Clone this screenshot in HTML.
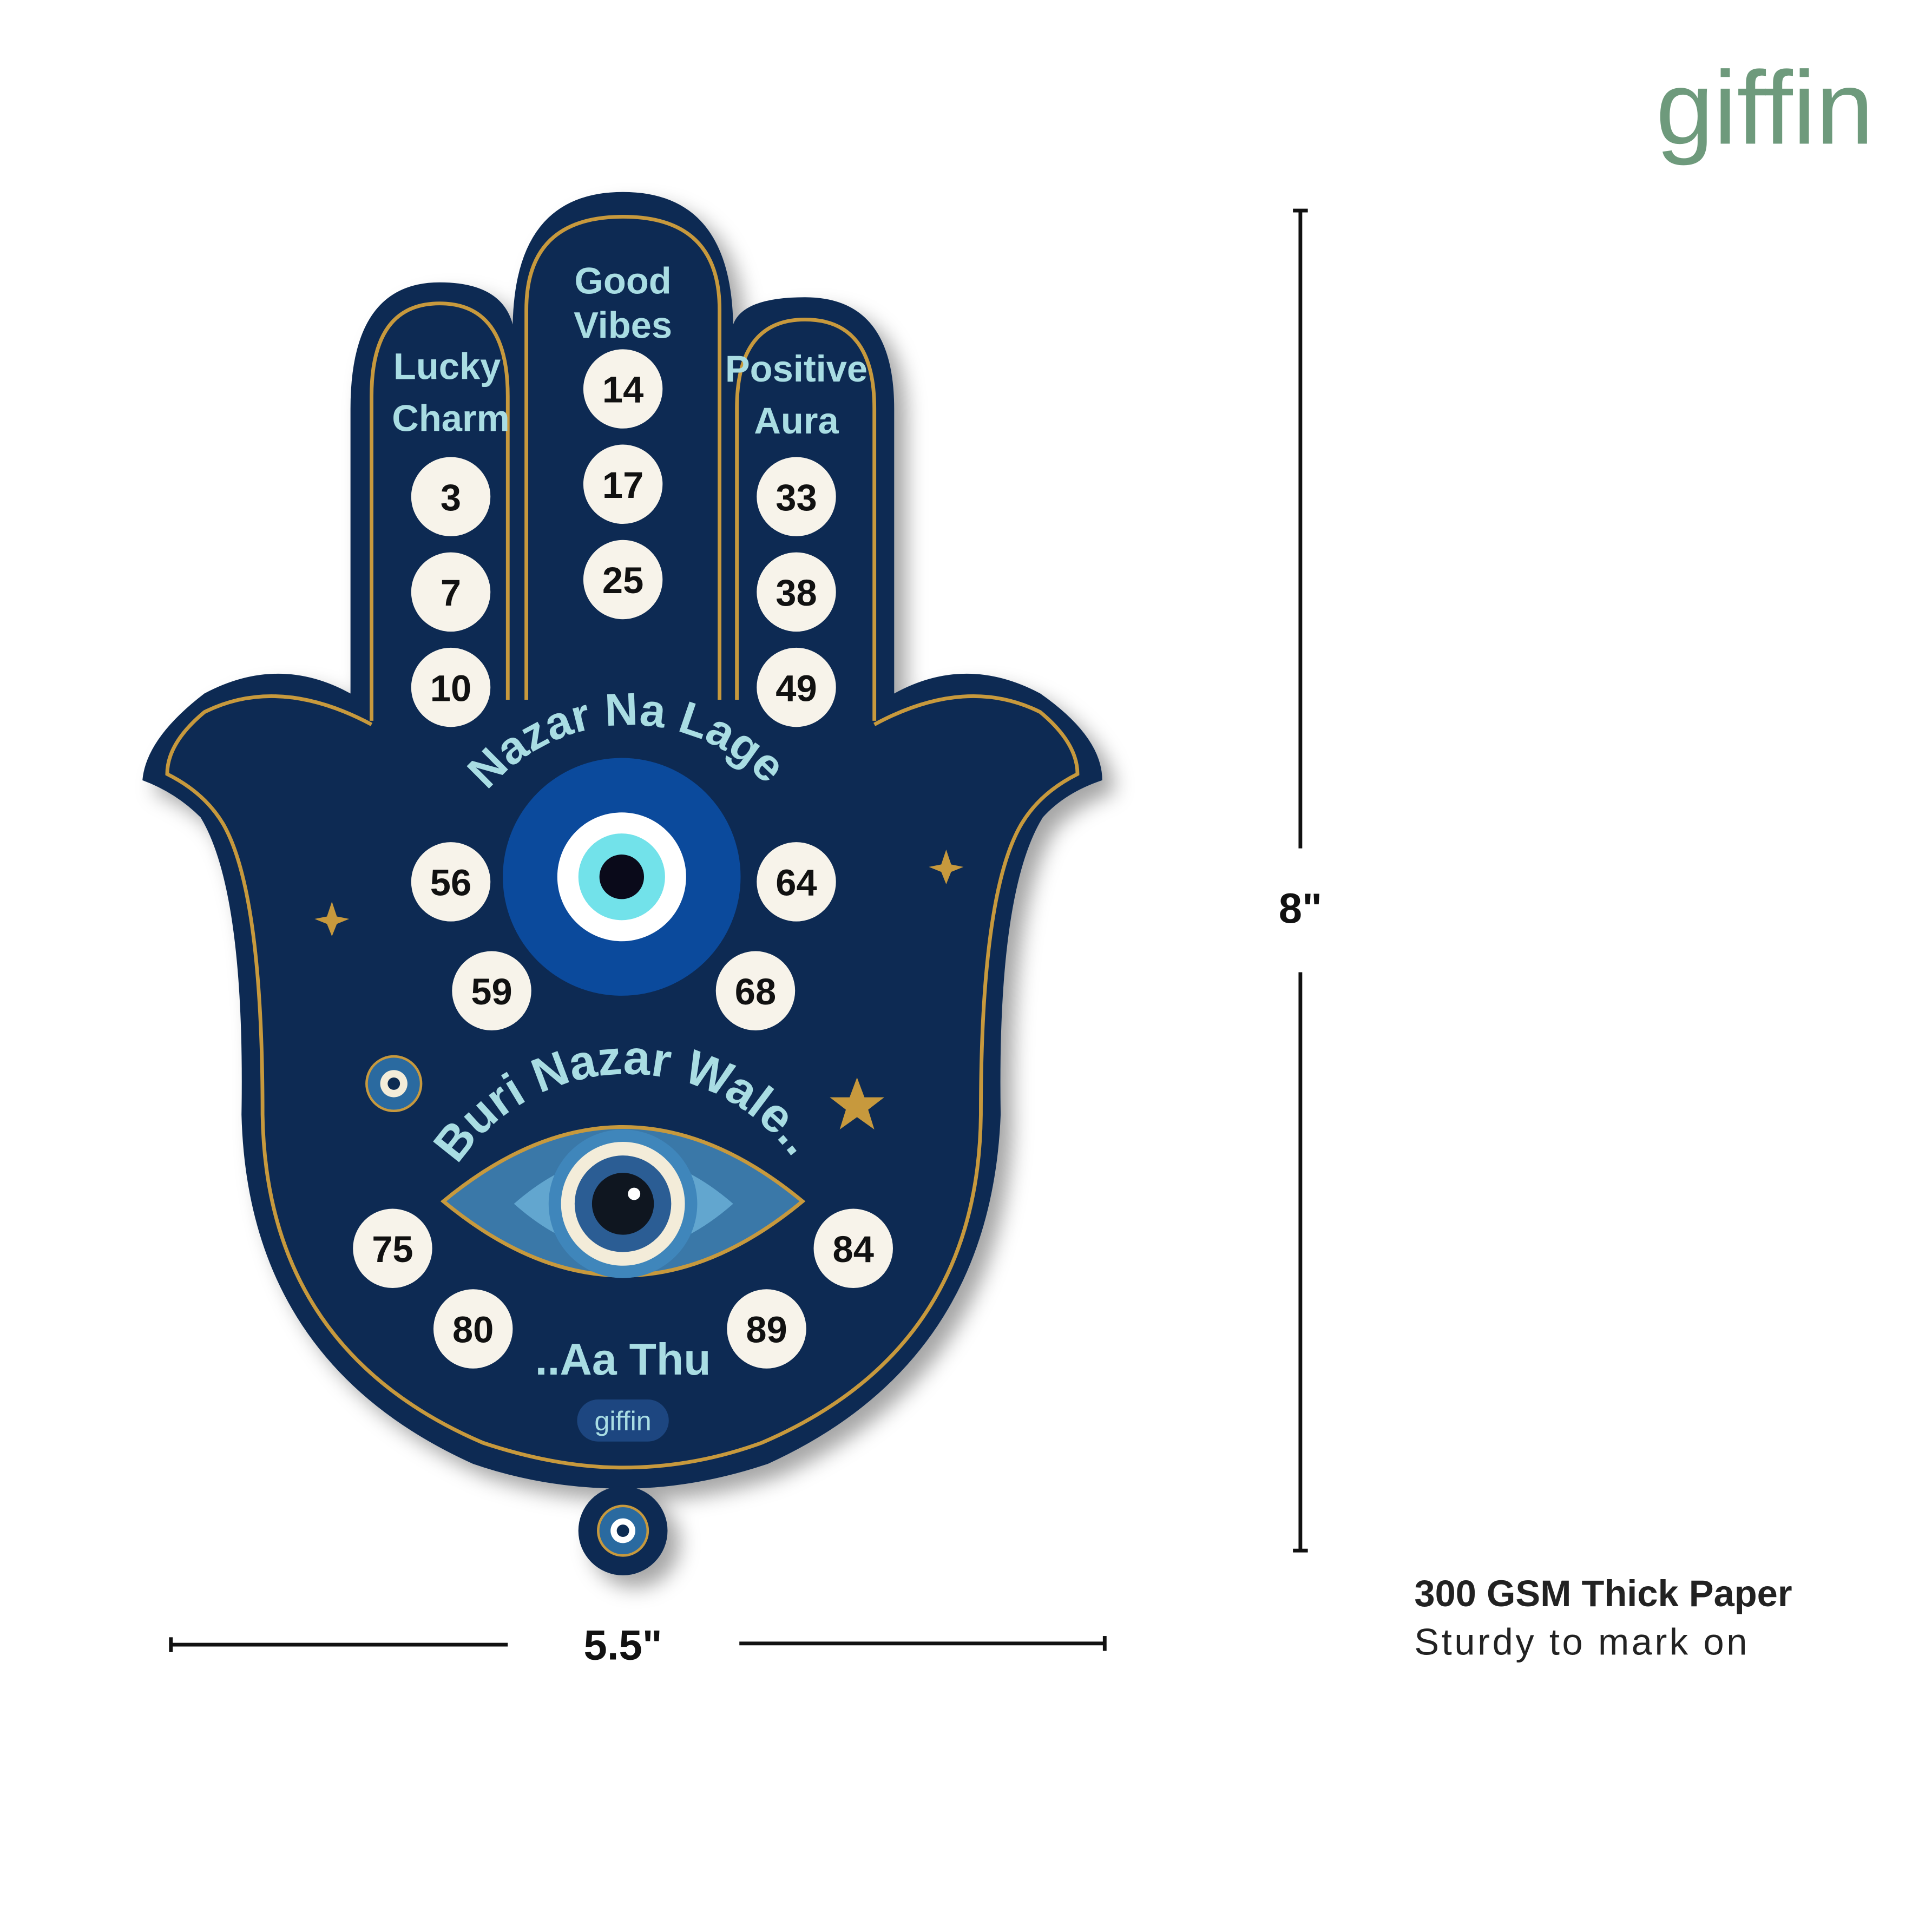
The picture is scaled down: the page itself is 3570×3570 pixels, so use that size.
<!DOCTYPE html>
<html><head><meta charset="utf-8"><style>
html,body{margin:0;padding:0;background:#fff;}
svg{display:block;}
text{font-family:"Liberation Sans",sans-serif;}
</style></head><body>
<svg width="3570" height="3570" viewBox="0 0 1560 1560" xmlns="http://www.w3.org/2000/svg">
<defs>
<filter id="sh" x="-20%" y="-20%" width="140%" height="140%"><feDropShadow dx="10" dy="10" stdDeviation="8" flood-color="#000" flood-opacity="0.35"/></filter>
<path id="hand" d="M283,330 Q283,228 355,228 Q405,228 414,262 Q416,155 503,155 Q590,155 592,262 Q600,240 650,240 Q722,240 722,330 L722,560 Q780,528 840,560 Q890,595 890,630 Q860,640 842,660 Q805,720 808,900 Q800,1100 620,1182 Q560,1202 503,1202 Q440,1202 382,1182 Q200,1100 195,900 Q198,720 162,660 Q142,640 115,630 Q118,596 165,560 Q225,528 283,560 Z"/>
<path id="arc1" d="M385,650 A150,150 0 0 1 628,645"/>
<path id="arc2" d="M365,948 A165,165 0 0 1 645,942"/>
</defs>
<!-- logo -->
<text x="1425" y="116" font-size="84" fill="#6e9a7c" text-anchor="middle">giffin</text>
<!-- hand -->
<g filter="url(#sh)">
<use href="#hand" fill="#0c2b52"/>
<circle cx="503" cy="1236" r="36" fill="#0c2b52"/>
</g>
<g fill="none" stroke="#c7993d" stroke-width="3">
<path d="M300,582 L300,320 Q300,245 355,245 Q410,245 410,320 L410,565"/>
<path d="M425,565 L425,250 Q425,175 503,175 Q581,175 581,250 L581,565"/>
<path d="M595,565 L595,330 Q595,258 650,258 Q706,258 706,330 L706,582"/>
<path d="M300,585 Q225,545 165,575 Q135,600 135,625 Q165,640 180,665 Q212,720 212,900 Q215,1090 390,1165 Q450,1185 503,1185 Q560,1185 615,1165 Q790,1090 792,900 Q792,720 825,665 Q840,640 870,625 Q870,600 840,575 Q780,545 706,585"/>
</g>
<circle cx="503" cy="1236" r="20" fill="#2a6aa0" stroke="#c7993d" stroke-width="2"/>
<circle cx="503" cy="1236" r="10" fill="#fff"/><circle cx="503" cy="1236" r="5" fill="#0c2b52"/>
<!-- finger labels -->
<g fill="#a9dde3" font-weight="bold" font-size="30" text-anchor="middle">
<text x="361" y="306">Lucky</text><text x="364" y="348">Charm</text>
<text x="503" y="237">Good</text><text x="503" y="273">Vibes</text>
<text x="643" y="308">Positive</text><text x="643" y="350">Aura</text>
</g>
<!-- number circles -->
<g fill="#f7f3ea">
<circle cx="364" cy="401" r="32"/><circle cx="364" cy="478" r="32"/><circle cx="364" cy="555" r="32"/>
<circle cx="503" cy="314" r="32"/><circle cx="503" cy="391" r="32"/><circle cx="503" cy="468" r="32"/>
<circle cx="643" cy="401" r="32"/><circle cx="643" cy="478" r="32"/><circle cx="643" cy="555" r="32"/>
<circle cx="364" cy="712" r="32"/><circle cx="643" cy="712" r="32"/>
<circle cx="397" cy="800" r="32"/><circle cx="610" cy="800" r="32"/>
<circle cx="317" cy="1008" r="32"/><circle cx="689" cy="1008" r="32"/>
<circle cx="382" cy="1073" r="32"/><circle cx="619" cy="1073" r="32"/>
</g>
<g fill="#111" font-weight="bold" font-size="30" text-anchor="middle">
<text x="364" y="412">3</text><text x="364" y="489">7</text><text x="364" y="566">10</text>
<text x="503" y="325">14</text><text x="503" y="402">17</text><text x="503" y="479">25</text>
<text x="643" y="412">33</text><text x="643" y="489">38</text><text x="643" y="566">49</text>
<text x="364" y="723">56</text><text x="643" y="723">64</text>
<text x="397" y="811">59</text><text x="610" y="811">68</text>
<text x="317" y="1019">75</text><text x="689" y="1019">84</text>
<text x="382" y="1084">80</text><text x="619" y="1084">89</text>
</g>
<!-- top eye -->
<circle cx="502" cy="708" r="96" fill="#0b4a9c"/>
<circle cx="502" cy="708" r="52" fill="#fff"/>
<circle cx="502" cy="708" r="35" fill="#72e2ea"/>
<circle cx="502" cy="708" r="18" fill="#0a0a1a"/>
<text font-size="37" font-weight="bold" fill="#a9dde3"><textPath href="#arc1" startOffset="50%" text-anchor="middle">Nazar Na Lage</textPath></text>
<text font-size="39" font-weight="bold" fill="#a9dde3"><textPath href="#arc2" startOffset="50%" text-anchor="middle">Buri Nazar Wale..</textPath></text>
<!-- lower eye -->
<path d="M358,970 Q503,850 648,970 Q503,1090 358,970 Z" fill="#3a78a8" stroke="#c7993d" stroke-width="3"/>
<path d="M415,972 Q503,895 592,972 Q503,1050 415,972 Z" fill="#62a6cf"/>
<circle cx="503" cy="972" r="60" fill="#3f86bb"/>
<circle cx="503" cy="972" r="50" fill="#f3ecd9"/>
<circle cx="503" cy="972" r="39" fill="#2b5d94"/>
<circle cx="503" cy="972" r="25" fill="#0f1620"/>
<circle cx="512" cy="964" r="5" fill="#fff"/>
<!-- side charms -->
<circle cx="318" cy="875" r="22" fill="#2a6aa0" stroke="#c7993d" stroke-width="2"/>
<circle cx="318" cy="875" r="11" fill="#f3ecd9"/><circle cx="318" cy="875" r="5" fill="#0c2b52"/>
<polygon points="692,870 698,886 714,886 701,896 706,912 692,902 678,912 683,896 670,886 686,886" fill="#c7993d"/>
<polygon points="268,728 272,740 282,742 272,746 268,756 264,746 254,742 264,740" fill="#c7993d"/>
<polygon points="764,686 768,698 778,700 768,704 764,714 760,704 750,700 760,698" fill="#c7993d"/>
<text x="503" y="1110" font-size="36" font-weight="bold" fill="#a9dde3" text-anchor="middle">..Aa Thu</text>
<rect x="466" y="1130" width="74" height="34" rx="17" fill="#1d4680"/>
<text x="503" y="1155" font-size="22" fill="#a9dde3" text-anchor="middle">giffin</text>
<!-- dimensions -->
<g stroke="#111" stroke-width="3">
<line x1="1050" y1="170" x2="1050" y2="685"/><line x1="1044" y1="170" x2="1056" y2="170"/>
<line x1="1050" y1="785" x2="1050" y2="1252"/><line x1="1044" y1="1252" x2="1056" y2="1252"/>
<line x1="138" y1="1328" x2="410" y2="1328"/><line x1="138" y1="1322" x2="138" y2="1334"/>
<line x1="597" y1="1327" x2="892" y2="1327"/><line x1="892" y1="1321" x2="892" y2="1333"/>
</g>
<text x="1050" y="745" font-size="34" font-weight="bold" fill="#111" text-anchor="middle">8"</text>
<text x="503" y="1340" font-size="34" font-weight="bold" fill="#111" text-anchor="middle">5.5"</text>
<text x="1142" y="1297" font-size="30" font-weight="bold" fill="#222">300 GSM Thick Paper</text>
<text x="1142" y="1336" font-size="30" fill="#222" letter-spacing="2">Sturdy to mark on</text>
</svg>
</body></html>
